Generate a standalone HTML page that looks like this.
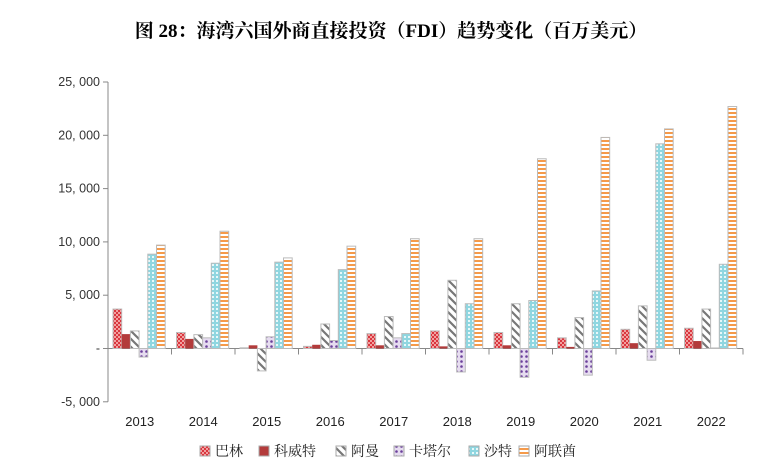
<!DOCTYPE html>
<html><head><meta charset="utf-8"><style>
body{margin:0;background:#fff;width:782px;height:464px;overflow:hidden}
svg text{font-family:"Liberation Sans","Noto Sans CJK SC",sans-serif}
</style></head><body>
<svg width="782" height="464">
<defs>
<pattern id="pB" width="4" height="4" patternUnits="userSpaceOnUse"><rect width="4" height="4" fill="#f2a0a0"/><rect width="2" height="2" fill="#d9363e"/><rect x="2" y="2" width="2" height="2" fill="#d9363e"/></pattern>
<pattern id="pO" width="8" height="8" patternUnits="userSpaceOnUse"><rect width="8" height="8" fill="#fff"/><path d="M-2,6 L2,10 M0,0 L8,8 M6,-2 L10,2" stroke="#777" stroke-width="2.2"/></pattern>
<pattern id="pQ" width="5" height="5" patternUnits="userSpaceOnUse"><rect width="5" height="5" fill="#e6dcf0"/><circle cx="1.5" cy="1.5" r="1.3" fill="#6a3f9a"/></pattern>
<pattern id="pS" width="4" height="4" patternUnits="userSpaceOnUse"><rect width="4" height="4" fill="#8fd6e0"/><rect width="2" height="2" fill="#e8f8fa"/></pattern>
<pattern id="pU" width="4" height="4" patternUnits="userSpaceOnUse"><rect width="4" height="4" fill="#fff"/><rect width="4" height="2" fill="#f59a4a"/></pattern>
</defs>
<text x="391" y="37" text-anchor="middle" font-size="19" font-weight="bold" style="font-family:'Liberation Serif','Noto Serif CJK SC',serif">图 28：海湾六国外商直接投资（FDI）趋势变化（百万美元）</text>
<g id="axes"></g><g id="bars"></g><g id="legend"></g>
</svg>
<script>
const years=["2013","2014","2015","2016","2017","2018","2019","2020","2021","2022"];
const seriesNames=["巴林","科威特","阿曼","卡塔尔","沙特","阿联酋"];
const bahrain=[3700,1500,65,200,1400,1650,1500,1000,1800,1900];
const kuwait=[1350,900,300,350,300,200,300,150,500,700];
const oman=[1650,1300,-2100,2300,3000,6400,4200,2900,4000,3700];
const qatar=[-800,1000,1100,750,1000,-2200,-2700,-2500,-1100,50];
const saudi=[8850,8000,8100,7400,1400,4200,4500,5400,19200,7900];
const uae=[9700,11000,8500,9600,10300,10300,17800,19800,20600,22700];
const yTicks=[-5000,0,5000,10000,15000,20000,25000];
const series=[bahrain,kuwait,oman,qatar,saudi,uae];
const fills=["url(#pB)","#b33b3b","url(#pO)","url(#pQ)","url(#pS)","url(#pU)"];
const NS="http://www.w3.org/2000/svg";
const x0=108,gw=63.5,y0=348.5,ppu=53.3/5000;
const yS=v=>y0-v*ppu;
function mk(t,a,p){const e=document.createElementNS(NS,t);for(const k in a)e.setAttribute(k,a[k]);p.appendChild(e);return e;}
const ax=document.getElementById('axes');
let l=mk('line',{x1:x0,y1:yS(25000),x2:x0,y2:yS(-5000),stroke:'#888'},ax);


yTicks.forEach(v=>{
 mk('line',{x1:x0-5,x2:x0,y1:yS(v),y2:yS(v),stroke:'#888'},ax);
 const t=mk('text',{x:x0-8,y:yS(v)+4,'text-anchor':'end','font-size':12.5,fill:'#333'},ax);
 t.textContent=v===0?'-':(v<0?'-':'')+Math.abs(v).toLocaleString('en-US').replace(',',', ');
 
 
});
l=mk('line',{x1:x0,y1:y0,x2:x0+gw*years.length,y2:y0,stroke:'#888'},ax);


years.forEach((y,i)=>{
 mk('line',{x1:x0+gw*(i+1),x2:x0+gw*(i+1),y1:y0,y2:y0+6,stroke:'#888'},ax);
 const t=mk('text',{x:x0+gw*(i+0.5),y:426,'text-anchor':'middle','font-size':13,fill:'#222'},ax);
 t.textContent=y;
 
 
});
const bg=document.getElementById('bars');const bw=8.7;
series.forEach((s,j)=>s.forEach((v,i)=>{
 const x=x0+gw*i+5+j*bw;const y=Math.min(yS(v),y0);const h=Math.abs(yS(v)-y0);
 const r=mk('rect',{x:x,y:y,width:bw,height:h,fill:fills[j],stroke:j===1?'none':'#bbb','stroke-width':1},bg);
 
 
}));
const lg=document.getElementById('legend');
const lx=[200,259,336,394,469,519];
seriesNames.forEach((n,j)=>{
 const g=mk('g',{},lg);
 
 
 mk('rect',{x:lx[j],y:446,width:10,height:10,fill:fills[j],stroke:'#aaa'},g);
 const t=mk('text',{x:lx[j]+15,y:456,'font-size':14,fill:'#222',style:"font-family:'Noto Serif CJK SC',serif"},g);t.textContent=n;
});
</script>
</body></html>
